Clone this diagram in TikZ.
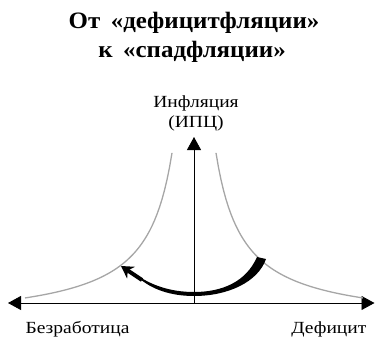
\documentclass[tikz,border=0pt]{standalone}
\usepackage{fontspec}
\setmainfont{Liberation Serif}
\newfontfamily\labelfont[FakeStretch=1.15]{Liberation Serif}
\newfontfamily\titlefont[FakeStretch=1.06]{Liberation Serif}
\usetikzlibrary{arrows.meta}

\begin{document}
\begin{tikzpicture}[x=1pt,y=-1pt]
\useasboundingbox (0,0) rectangle (375,337);
\coordinate (O) at (194,303);
\coordinate (L) at (8,303);
\coordinate (R) at (374.5,303);
\coordinate (T) at (194,137);
\coordinate (S) at (266,259);
\coordinate (H) at (121,266);
% axes
\draw[line width=0.9pt, {Triangle[length=13pt,width=14pt]}-{Triangle[length=13pt,width=14pt]}] (L) -- (R);
\draw[line width=0.8pt, -{Triangle[length=13pt,width=14pt]}] (O) -- (T);
% curves
\draw[gray!70, line width=1.3pt] plot[domain=22:169, samples=60] ({194-\x},{298-4636/(\x+5)+26.6});
\draw[gray!70, line width=1.3pt] plot[domain=22:169, samples=60] ({194+\x},{298-4636/(\x+5)+26.6});
% thick arrow
\fill (S) .. controls (258,282) and (228,296) .. (194,296) .. controls (170,296) and (152,289) .. (140,279)
  -- (134,273) .. controls (150,285) and (170,292) .. (194,292) .. controls (222,292) and (246,282) .. (257,257) -- cycle;
\draw[line width=4pt, -{Stealth[length=12pt,width=14pt]}] (142,280) -- (H);
% labels
\node[font=\titlefont\bfseries\fontsize{23.5}{26}\selectfont, anchor=base] (title1) at (194,29) {От\hspace{0.45em}«дефицитфляции»};
\node[font=\titlefont\bfseries\fontsize{23.5}{26}\selectfont, anchor=base] (title2) at (192,58) {к\hspace{0.45em}«спадфляции»};
\node[font=\labelfont\fontsize{17}{20}\selectfont, anchor=base] (yl1) at (196,107) {Инфляция};
\node[font=\labelfont\fontsize{17}{20}\selectfont, anchor=base] (yl2) at (196,128) {(ИПЦ)};
\node[font=\labelfont\fontsize{17}{20}\selectfont, anchor=base west] (xl) at (22,333) {Безработица};
\node[font=\labelfont\fontsize{17}{20}\selectfont, anchor=base east] (xr) at (370,333) {Дефицит};
\end{tikzpicture}
\end{document}
